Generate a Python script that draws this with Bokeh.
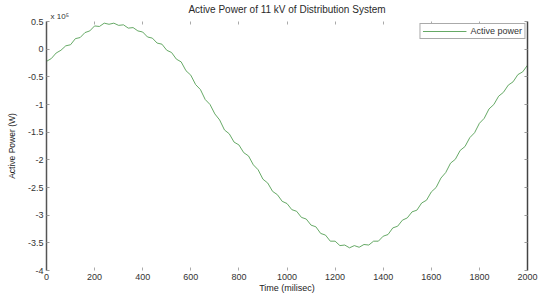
from bokeh.plotting import figure
from bokeh.models import (Range1d, LinearAxis, Legend, LegendItem,
                          FixedTicker, CustomLabelingPolicy)
from bokeh.embed import file_html
from bokeh.resources import INLINE

time_ms = list(range(0, 2001, 20))
active_power = [
    -0.22, -0.17, -0.07, -0.02, 0.06, 0.08, 0.19, 0.21, 0.30, 0.33,
    0.42, 0.41, 0.47, 0.45, 0.47, 0.43, 0.44, 0.38, 0.39, 0.33,
    0.31, 0.22, 0.20, 0.11, 0.09, -0.02, -0.06, -0.18, -0.23, -0.39,
    -0.47, -0.64, -0.73, -0.91, -1.00, -1.17, -1.28, -1.46, -1.53, -1.68,
    -1.73, -1.87, -1.93, -2.09, -2.18, -2.35, -2.42, -2.57, -2.63, -2.75,
    -2.79, -2.90, -2.93, -3.04, -3.07, -3.18, -3.21, -3.33, -3.36, -3.47,
    -3.47, -3.55, -3.54, -3.59, -3.55, -3.58, -3.53, -3.54, -3.47, -3.47,
    -3.38, -3.35, -3.23, -3.20, -3.09, -3.05, -2.94, -2.91, -2.78, -2.73,
    -2.58, -2.50, -2.33, -2.23, -2.06, -1.99, -1.83, -1.76, -1.60, -1.51,
    -1.34, -1.25, -1.08, -1.00, -0.85, -0.78, -0.65, -0.59, -0.46, -0.41,
    -0.29,
]
x_ticks = [0, 200, 400, 600, 800, 1000, 1200, 1400, 1600, 1800, 2000]
y_ticks = [-4, -3.5, -3, -2.5, -2, -1.5, -1, -0.5, 0, 0.5]
y_tick_labels = ["-4", "-3.5", "-3", "-2.5", "-2", "-1.5", "-1", "-0.5", "0", "0.5"]
exponent_text = "x 10\u2075"
title_text = "Active Power of 11 kV of Distribution System"

FONT = "Liberation Sans"
TXT = "#333333"

p = figure(width=539, height=298, output_backend="svg", toolbar_location=None,
           title=None,
           x_range=Range1d(0, 2000), y_range=Range1d(-4, 0.5),
           min_border_left=46, min_border_right=12, min_border_top=20,
           min_border_bottom=28)

p.grid.visible = False
p.outline_line_color = None
p.background_fill_color = "white"
p.border_fill_color = "white"

r = p.line(time_ms, active_power, line_color="#559f55", line_width=0.9)

xa = p.xaxis[0]
ya = p.yaxis[0]
xa.ticker = FixedTicker(ticks=x_ticks)
ya.ticker = FixedTicker(ticks=y_ticks)
ya.major_label_overrides = {t: s for t, s in zip(y_ticks, y_tick_labels)}
for ax in (xa, ya):
    ax.major_tick_in = 3
    ax.major_tick_out = 0
    ax.minor_tick_in = 0
    ax.minor_tick_out = 0
    ax.major_label_text_font = FONT
    ax.major_label_text_font_size = "9px"
    ax.major_label_text_color = TXT
    ax.axis_label_text_font = FONT
    ax.axis_label_text_font_size = "9px"
    ax.axis_label_text_font_style = "normal"
    ax.axis_label_text_color = "#222222"
    ax.major_label_standoff = 3
xa.axis_label = "Time (milisec)"
xa.axis_label_standoff = 0
xa.axis_line_color = None
xa.major_tick_line_color = "#aaaaaa"
ya.axis_label = "Active Power (W)"
ya.axis_label_text_font_size = "8.5px"
ya.axis_label_standoff = 8
ya.axis_line_color = "#555555"
ya.axis_line_width = 1.5
ya.major_tick_line_color = "#999999"

hide_all = "for (const i of indices) { indices.unset(i) }\nreturn indices"
keep_first = "for (const i of indices) { if (i != 0) indices.unset(i) }\nreturn indices"

# label centred on the first tick; non-breaking spaces push the visible text right of the axis
exp_label = "\u00a0" * 12 + exponent_text

top = LinearAxis(ticker=FixedTicker(ticks=x_ticks), major_label_text_font=FONT,
                 major_label_text_font_size="8px", major_label_text_color=TXT,
                 major_label_overrides={x_ticks[0]: exp_label},
                 major_label_standoff=1, major_tick_in=3, major_tick_out=0,
                 minor_tick_in=0, minor_tick_out=0, axis_line_color=None,
                 major_tick_line_color="#aaaaaa",
                 major_label_policy=CustomLabelingPolicy(code=keep_first),
                 axis_label=title_text, axis_label_standoff=-6,
                 axis_label_text_font=FONT, axis_label_text_font_size="10px",
                 axis_label_text_font_style="normal",
                 axis_label_text_color="#2a2a2a")
p.add_layout(top, "above")
right = LinearAxis(ticker=FixedTicker(ticks=y_ticks), major_label_text_font_size="1px",
                   major_label_standoff=0, major_tick_in=3, major_tick_out=0,
                   minor_tick_in=0, minor_tick_out=0, axis_line_color="#444444",
                   axis_line_width=1.5, major_tick_line_color="#999999",
                   major_label_policy=CustomLabelingPolicy(code=hide_all))
p.add_layout(right, "right")

legend = Legend(items=[LegendItem(label="Active power", renderers=[r])],
                location="top_right", margin=2, padding=2, spacing=0,
                glyph_width=44, glyph_height=10, label_standoff=4,
                label_text_font=FONT, label_text_font_size="9px",
                label_text_color=TXT, label_height=10,
                border_line_color="#555555", border_line_width=1,
                background_fill_alpha=1)
p.add_layout(legend)

open("out.html", "w").write(file_html(p, INLINE))
